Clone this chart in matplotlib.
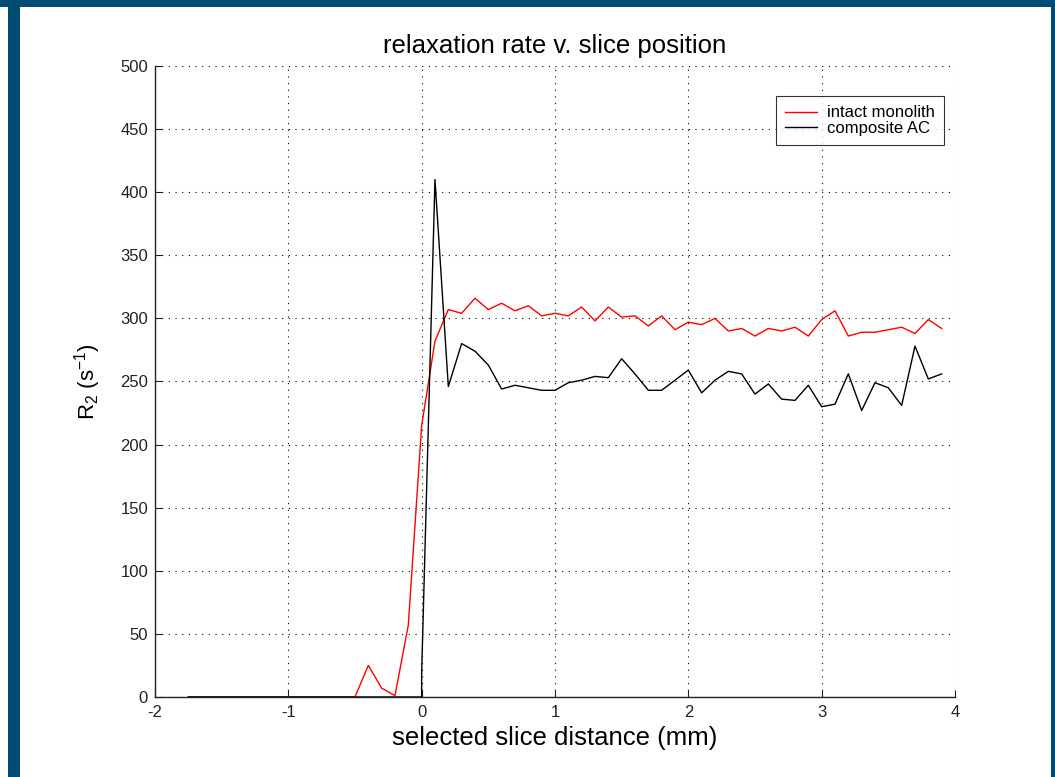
"""R2 relaxation rate against slice position, two samples."""
import numpy as np
import matplotlib
matplotlib.use("Agg")
import matplotlib.pyplot as plt
from matplotlib.patches import Rectangle

plt.rcParams["font.family"] = ["Liberation Sans", "DejaVu Sans"]
plt.rcParams["mathtext.default"] = "regular"
plt.rcParams["axes.unicode_minus"] = False

# slice positions (mm): first sample then 0.1 mm steps
distance = np.concatenate([[-1.75], np.round(np.arange(-1.7, 3.95, 0.1), 1)])

# R2 (1/s), intact monolith
intact_r2 = [
    0, 0, 0, 0, 0, 0, 0, 0, 0, 0, 0, 0, 0,          # -1.75 .. -0.6
    0, 25, 7, 1, 57, 215, 282,                       # -0.5 .. 0.1
    307, 304, 316, 307, 312, 306, 310, 302, 304,     # 0.2 .. 1.0
    302, 309, 298, 309, 301, 302, 294, 302, 291, 297,  # 1.1 .. 2.0
    295, 300, 290, 292, 286, 292, 290, 293, 286, 299,  # 2.1 .. 3.0
    306, 286, 289, 289, 291, 293, 288, 299, 292,     # 3.1 .. 3.9
]

# R2 (1/s), composite AC: the step at 0 mm has two samples
composite_distance = np.insert(distance, 19, 0.0)
composite_r2 = [
    0, 0, 0, 0, 0, 0, 0, 0, 0, 0, 0, 0, 0,
    0, 0, 0, 0, 0, 0, 19, 410,
    246, 280, 274, 263, 244, 247, 245, 243, 243,
    249, 251, 254, 253, 268, 256, 243, 243, 251, 259,
    241, 251, 258, 256, 240, 248, 236, 235, 247, 230,
    232, 256, 227, 249, 245, 231, 278, 252, 256,
]

fig = plt.figure(figsize=(10.55, 7.77), dpi=100)
fig.patch.set_facecolor("white")

# dark blue frame of the slide
frame = "#014C73"
fig.patches.append(Rectangle((0, 1 - 7 / 777), 1, 7 / 777, transform=fig.transFigure,
                             facecolor=frame, edgecolor="none", zorder=0))
fig.patches.append(Rectangle((8 / 1055, 0), 12 / 1055, 1, transform=fig.transFigure,
                             facecolor=frame, edgecolor="none", zorder=0))
fig.patches.append(Rectangle((1051 / 1055, 0), 4 / 1055, 1, transform=fig.transFigure,
                             facecolor=frame, edgecolor="none", zorder=0))

ax = fig.add_axes([0.1469, 0.1030, 0.7583, 0.8121])

ax.plot(distance, intact_r2, color="red", lw=1.0, label="intact monolith")
ax.plot(composite_distance, composite_r2, color="black", lw=1.0, label="composite AC")

ax.set_xlim(-2, 4)
ax.set_ylim(0, 500)
ax.set_xticks(np.arange(-2, 5, 1))
ax.set_yticks(np.arange(0, 501, 50))

ax.grid(True, color="black", linestyle=(0, (1, 5)), linewidth=0.8)
ax.set_axisbelow(True)
for side in ("top", "right"):
    ax.spines[side].set_visible(False)
for side in ("left", "bottom"):
    ax.spines[side].set_color("#222222")
    ax.spines[side].set_linewidth(1.0)

ax.tick_params(direction="in", length=5, width=0.8, labelsize=12, colors="#222222",
               pad=5)
ax.tick_params(axis="x", pad=6)

ax.set_title("relaxation rate v. slice position", fontsize=18.5, pad=9)
ax.set_xlabel("selected slice distance (mm)", fontsize=18.5, labelpad=4)
ax.set_ylabel("R$_2$ (s$^{-1}$)", fontsize=16, labelpad=12)

leg = ax.legend(loc="upper right", bbox_to_anchor=(0.986, 0.952), fontsize=12,
                frameon=True, fancybox=False, handlelength=1.9, borderpad=0.55,
                labelspacing=0.05, handletextpad=0.6, borderaxespad=0)
leg.get_frame().set_edgecolor("black")
leg.get_frame().set_linewidth(0.8)

fig.savefig("out.png", dpi=100, facecolor=fig.get_facecolor())
